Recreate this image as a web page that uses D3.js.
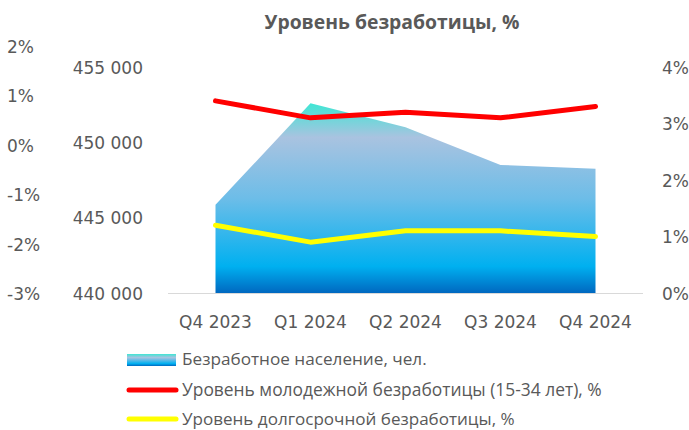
<!DOCTYPE html>
<html><head><meta charset="utf-8">
<script src="https://cdn.jsdelivr.net/npm/d3@7"></script>
<style>body{margin:0;background:#fff}svg{display:block}text{font-family:"Open Sans",sans-serif;fill:#595959}.tk{font-family:"DejaVu Sans",sans-serif;font-size:17px}</style>
</head><body><svg id="c" width="689" height="430"></svg>
<script>
const categories=["Q4 2023","Q1 2024","Q2 2024","Q3 2024","Q4 2024"];
const unemployed=[445850,452600,451000,448500,448250];
const youthRate=[3.4,3.1,3.2,3.1,3.3];
const longTermRate=[1.2,0.9,1.1,1.1,1.0];
const farLeftTicks=[-3,-2,-1,0,1,2];
const leftTicks=[440000,445000,450000,455000];
const rightTicks=[0,1,2,3,4];
const seriesNames=["Безработное население, чел.","Уровень молодежной безработицы (15-34 лет), %","Уровень долгосрочной безработицы, %"];
const title="Уровень безработицы, %";

const svg=d3.select("#c");
const x=d3.scaleBand().domain(categories).range([168,643]);
const cx=d=>x(d)+x.bandwidth()/2;
const yL=d3.scaleLinear().domain([440000,455000]).range([293,67]);
const yR=d3.scaleLinear().domain([0,4]).range([293,67]);
const yF=d3.scaleLinear().domain([-3,2]).range([294,47]);
const fmtN=d=>d3.format(",")(d).replace(/,/g," ");

const defs=svg.append("defs");
const g=defs.append("linearGradient").attr("id","ag").attr("x1",0).attr("y1",0).attr("x2",0).attr("y2",1);
[[0,"#3fe6d4"],[0.18,"#a9c3e0"],[0.5,"#6dbde8"],[0.86,"#00b0f0"],[1,"#0068c0"]].forEach(s=>g.append("stop").attr("offset",s[0]).attr("stop-color",s[1]));
const lg=defs.append("linearGradient").attr("id","lg").attr("x1",0).attr("y1",0).attr("x2",0).attr("y2",1);
[[0,"#3fe6d4"],[0.3,"#a9c3e0"],[0.8,"#00b0f0"],[1,"#0068c0"]].forEach(s=>lg.append("stop").attr("offset",s[0]).attr("stop-color",s[1]));

function fit(sel,widths){sel.each(function(d,i){const t=d3.select(this);const l=this.getComputedTextLength();if(l>0){const fsz=parseFloat(t.style("font-size"));t.style("font-size",(fsz*widths[i]/l)+"px");}});}

const tt=svg.append("text").attr("x",392).attr("y",29).attr("text-anchor","middle").style("font-size","17px").style("font-weight","bold").text(title);
fit(tt,[255]);

const area=d3.area().x((d,i)=>cx(categories[i])).y0(yL(440000)).y1(d=>yL(d));
svg.append("path").datum(unemployed).attr("d",area).attr("fill","url(#ag)");

svg.append("line").attr("x1",168).attr("x2",643).attr("y1",293.5).attr("y2",293.5).attr("stroke","#d9d9d9");

const line=s=>d3.line().x((d,i)=>cx(categories[i])).y(d=>s(d));
svg.append("path").datum(youthRate).attr("d",line(yR)).attr("fill","none").attr("stroke","#ff0000").attr("stroke-width",5).attr("stroke-linecap","round").attr("stroke-linejoin","round");
svg.append("path").datum(longTermRate).attr("d",line(yR)).attr("fill","none").attr("stroke","#ffff00").attr("stroke-width",5).attr("stroke-linecap","round").attr("stroke-linejoin","round");

svg.append("g").selectAll("text").data(farLeftTicks).join("text").attr("class","tk").attr("x",7).attr("y",d=>yF(d)+6).text(d=>d+"%");
svg.append("g").selectAll("text").data(leftTicks).join("text").attr("class","tk").attr("x",143).attr("y",d=>yL(d)+6.5).attr("text-anchor","end").text(fmtN);
svg.append("g").selectAll("text").data(rightTicks).join("text").attr("class","tk").attr("x",662).attr("y",d=>yR(d)+6.5).text(d=>d+"%");
svg.append("g").selectAll("text").data(categories).join("text").attr("class","tk").attr("x",d=>cx(d)).attr("y",328).attr("text-anchor","middle").text(d=>d);

// legend
const lgY=[359,390,419];
svg.append("rect").attr("x",127).attr("y",354).attr("width",49).attr("height",12).attr("fill","url(#lg)");
svg.append("line").attr("x1",129).attr("x2",176).attr("y1",lgY[1]).attr("y2",lgY[1]).attr("stroke","#ff0000").attr("stroke-width",5).attr("stroke-linecap","round");
svg.append("line").attr("x1",129).attr("x2",176).attr("y1",lgY[2]).attr("y2",lgY[2]).attr("stroke","#ffff00").attr("stroke-width",5).attr("stroke-linecap","round");
const lt=svg.append("g").selectAll("text").data(seriesNames).join("text").attr("x",182).attr("y",(d,i)=>lgY[i]+6).style("font-size","16px").text(d=>d);
fit(lt,[245,420,333]);
</script></body></html>
